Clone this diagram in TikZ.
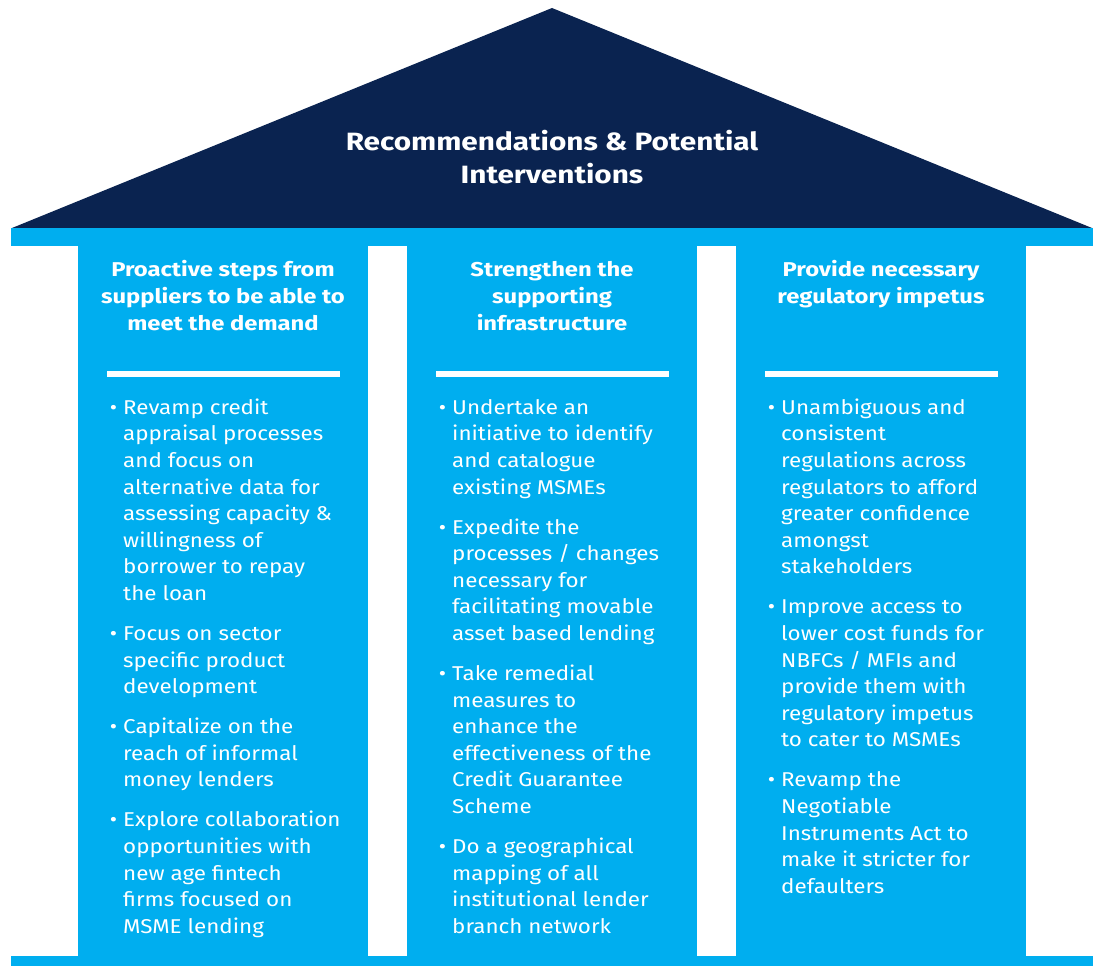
\documentclass[tikz,border=0pt]{standalone}
\usepackage{fontspec}
\setmainfont{Fira Sans}[FakeStretch=1.12, BoldFeatures={FakeStretch=1.19}]
\usepackage{tikz}
\usetikzlibrary{positioning}
\definecolor{roofnavy}{HTML}{0A2350}
\definecolor{pillarblue}{HTML}{00AEEF}
\newcommand{\bul}{\strut\makebox[0pt][r]{\textbullet\hspace{6pt}}}

\begin{document}
\begin{tikzpicture}[x=1pt, y=-1pt,
  roof/.style={fill=roofnavy},
  pillar/.style={fill=pillarblue},
  sepline/.style={fill=white},
  roofttl/.style={text=white, align=center, inner sep=0pt, anchor=north, font=\fontsize{25}{33}\selectfont\bfseries},
  colhead/.style={text=white, align=center, inner sep=0pt, anchor=north, font=\fontsize{20}{26.6}\selectfont\bfseries},
  colbody/.style={text=white, align=left, inner sep=0pt, anchor=north west, font=\fontsize{20}{26.6}\selectfont}]
\useasboundingbox (0,0) rectangle (1097,966);
% roof, beam and base
\fill[roof] (12,228) -- (552,8) -- (1092,228) -- cycle;
\fill[pillar] (11,228) rectangle (1093,246);
\fill[pillar] (11,956) rectangle (1093,966);
% pillars
\fill[pillar] (78,246) rectangle (368,956);
\fill[pillar] (407,246) rectangle (697,956);
\fill[pillar] (736,246) rectangle (1026,956);
\fill[sepline] (107,371) rectangle (340,377);
\fill[sepline] (436,371) rectangle (669,377);
\fill[sepline] (765,371) rectangle (998,377);
\node[roofttl] (ttl) at (552,127) {\strut Recommendations \& Potential\\Interventions};
\node[colhead] (hsup) at (223,258) {\strut Proactive steps from\\suppliers to be able to\\meet the demand};
\node[colhead] (hinf) at (552,258) {\strut Strengthen the\\supporting\\infrastructure};
\node[colhead] (hreg) at (881,258) {\strut Provide necessary\\regulatory impetus};
\node[colbody] (bsup) at (123,395.4) {\bul Revamp credit\\appraisal processes\\and focus on\\alternative data for\\assessing capacity \&\\willingness of\\borrower to repay\\the loan\\[13.4pt]
  \bul Focus on sector\\specific product\\development\\[13.4pt]
  \bul Capitalize on the\\reach of informal\\money lenders\\[13.4pt]
  \bul Explore collaboration\\opportunities with\\new age fintech\\firms focused on\\MSME lending};
\node[colbody] (binf) at (452,395.4) {\bul Undertake an\\initiative to identify\\and catalogue\\existing MSMEs\\[13.4pt]
  \bul Expedite the\\processes / changes\\necessary for\\facilitating movable\\asset based lending\\[13.4pt]
  \bul Take remedial\\measures to\\enhance the\\effectiveness of the\\Credit Guarantee\\Scheme\\[13.4pt]
  \bul Do a geographical\\mapping of all\\institutional lender\\branch network};
\node[colbody] (breg) at (781,395.4) {\bul Unambiguous and\\consistent\\regulations across\\regulators to afford\\greater confidence\\amongst\\stakeholders\\[13.4pt]
  \bul Improve access to\\lower cost funds for\\NBFCs / MFIs and\\provide them with\\regulatory impetus\\to cater to MSMEs\\[13.4pt]
  \bul Revamp the\\Negotiable\\Instruments Act to\\make it stricter for\\defaulters};
\end{tikzpicture}
\end{document}
